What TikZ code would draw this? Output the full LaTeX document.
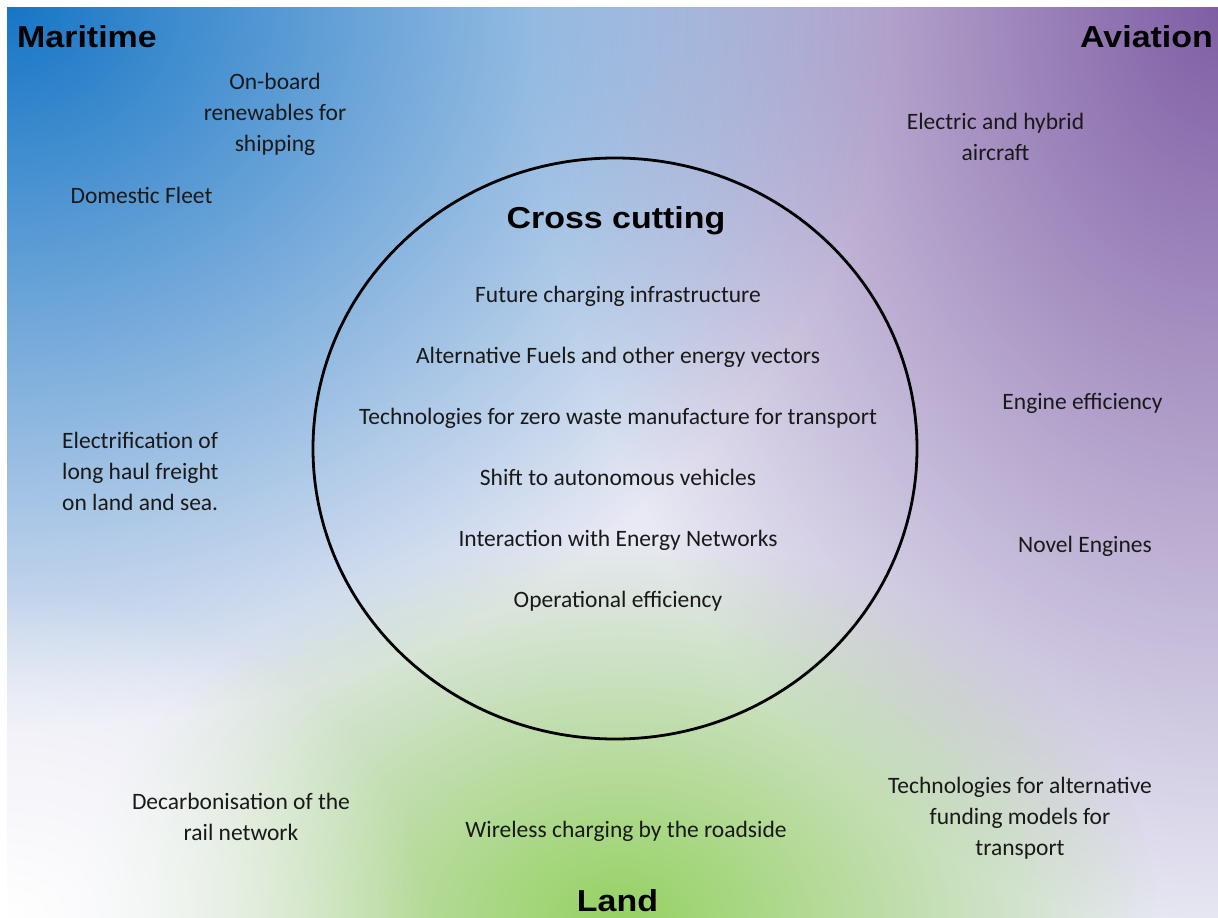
\documentclass[tikz,border=0pt]{standalone}
\usepackage{fontspec}
\setmainfont{Carlito}
\newfontfamily\headfont{Liberation Sans}[FakeStretch=1.12]
\usetikzlibrary{fadings}
\definecolor{txt}{RGB}{25,25,25}
\definecolor{bgbase}{RGB}{232,233,244}
\definecolor{seablue}{RGB}{22,118,198}
\definecolor{airpurple}{RGB}{128,94,165}
\definecolor{landgreen}{RGB}{150,210,98}
\pgfdeclareradialshading{softradial}{\pgfpointorigin}{color(0bp)=(white); color(25bp)=(black); color(50bp)=(black)}
\pgfdeclarefading{softfade}{\pgfuseshading{softradial}}
\tikzset{
  body/.style={font=\fontsize{23.5}{31}\selectfont, text=txt, align=center, inner sep=0pt,
    execute at begin node=\strut, execute at end node=\strut},
  head/.style={font=\headfont\bfseries\fontsize{30.3}{36}\selectfont, text=black, inner sep=0pt},
  ring/.style={draw=black, line width=2.8pt},
}
\begin{document}
\begin{tikzpicture}[x=1pt,y=-1pt]
\useasboundingbox (0,0) rectangle (1218,918);
\fill[white] (0,0) rectangle (1218,918);
\begin{scope}
  \clip (7,7) rectangle (1218,918);
  \fill[bgbase] (7,7) rectangle (1218,918);
  \fill[airpurple, path fading=softfade] (1218,7) ellipse [x radius=680pt, y radius=920pt];
  \fill[seablue, path fading=softfade] (7,7) ellipse [x radius=880pt, y radius=720pt];
  \fill[landgreen, path fading=softfade] (620,918) ellipse [x radius=540pt, y radius=380pt];
  \fill[white, path fading=softfade] (7,918) ellipse [x radius=420pt, y radius=330pt];
\end{scope}
\draw[ring] (615,448.5) ellipse [x radius=302pt, y radius=290.5pt];

\node[head, anchor=base west] (maritime) at (17,47) {Maritime};
\node[head, anchor=base east] (aviation) at (1213,47) {Aviation};
\node[head, anchor=base] (cross) at (616,228) {Cross cutting};
\node[head, anchor=base] (land) at (617.5,911) {Land};

\node[body] (onboard) at (275,116.5) {On-board\\renewables for\\shipping};
\node[body] (domestic) at (141.5,197) {Domestic Fleet};
\node[body] (electric) at (995.5,141) {Electric and hybrid\\aircraft};
\node[body] (engine) at (1082.5,403) {Engine efficiency};
\node[body] (novel) at (1085,546) {Novel Engines};
\node[body, align=left, anchor=west] (electrif) at (62,475.5) {Electrification of\\long haul freight\\on land and sea.};
\node[body] (decarb) at (241,821) {Decarbonisation of the\\rail network};
\node[body] (wireless) at (626,831) {Wireless charging by the roadside};
\node[body] (funding) at (1020,820.5) {Technologies for alternative\\funding models for\\transport};

\node[body] (c1) at (618,296) {Future charging infrastructure};
\node[body] (c2) at (618,357) {Alternative Fuels and other energy vectors};
\node[body] (c3) at (618,418) {Technologies for zero waste manufacture for transport};
\node[body] (c4) at (618,479) {Shift to autonomous vehicles};
\node[body] (c5) at (618,540) {Interaction with Energy Networks};
\node[body] (c6) at (618,601) {Operational efficiency};
\end{tikzpicture}
\end{document}
